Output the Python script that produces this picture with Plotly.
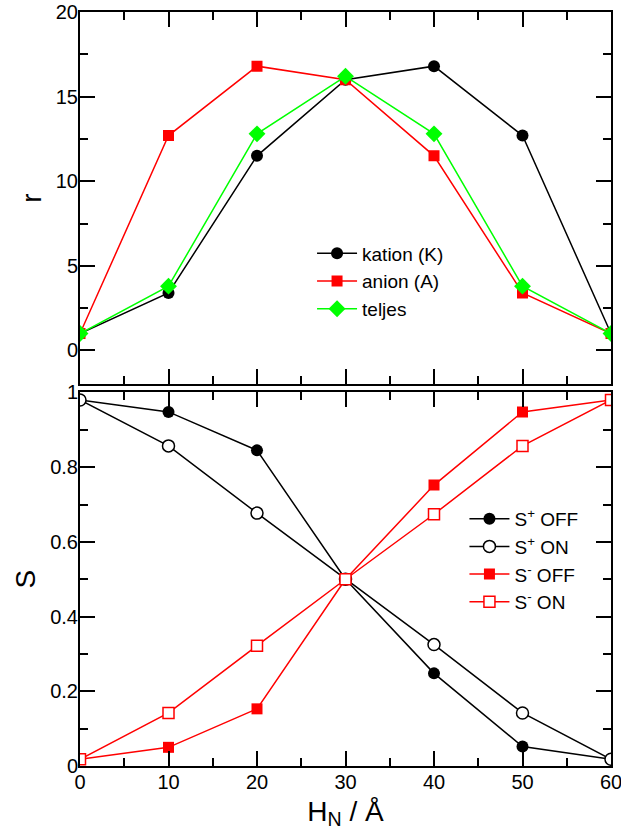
import plotly.graph_objects as go

# ---------------- data ----------------
H = [0, 10, 20, 30, 40, 50, 60]

r_kation = [1.0, 3.4, 11.5, 16.0, 16.8, 12.7, 1.0]
r_anion = [1.0, 12.7, 16.8, 16.0, 11.5, 3.4, 1.0]
r_teljes = [1.0, 3.8, 12.8, 16.2, 12.8, 3.8, 1.0]

s_plus_off = [0.98, 0.948, 0.845, 0.50, 0.248, 0.052, 0.018]
s_plus_on = [0.98, 0.857, 0.677, 0.50, 0.325, 0.142, 0.018]
s_minus_off = [0.018, 0.050, 0.153, 0.50, 0.752, 0.948, 0.98]
s_minus_on = [0.018, 0.142, 0.322, 0.50, 0.674, 0.857, 0.98]

FONT = "Liberation Sans, Arial, Helvetica, sans-serif"
RED = "#ff0000"
GREEN = "#00ff00"

fig = go.Figure()

# ---- top panel (r) ----
fig.add_trace(go.Scatter(x=H, y=r_kation, mode="lines+markers", name="kation (K)",
                         line=dict(color="black", width=1.5),
                         marker=dict(symbol="circle", size=12, color="black"),
                         xaxis="x2", yaxis="y2", legend="legend"))
fig.add_trace(go.Scatter(x=H, y=r_anion, mode="lines+markers", name="anion (A)",
                         line=dict(color=RED, width=1.5),
                         marker=dict(symbol="square", size=11, color=RED),
                         xaxis="x2", yaxis="y2", legend="legend"))
fig.add_trace(go.Scatter(x=H, y=r_teljes, mode="lines+markers", name="teljes",
                         line=dict(color=GREEN, width=1.5),
                         marker=dict(symbol="diamond", size=13, color=GREEN),
                         xaxis="x2", yaxis="y2", legend="legend"))

# ---- bottom panel (S) ----
fig.add_trace(go.Scatter(x=H, y=s_plus_off, mode="lines+markers", name="S<sup>+</sup> OFF",
                         line=dict(color="black", width=1.5),
                         marker=dict(symbol="circle", size=12, color="black"),
                         xaxis="x", yaxis="y", legend="legend2"))
fig.add_trace(go.Scatter(x=H, y=s_plus_on, mode="lines+markers", name="S<sup>+</sup> ON",
                         line=dict(color="black", width=1.5),
                         marker=dict(symbol="circle", size=12, color="white",
                                     line=dict(color="black", width=1.5)),
                         xaxis="x", yaxis="y", legend="legend2"))
fig.add_trace(go.Scatter(x=H, y=s_minus_off, mode="lines+markers", name="S<sup>-</sup> OFF",
                         line=dict(color=RED, width=1.5),
                         marker=dict(symbol="square", size=11, color=RED),
                         xaxis="x", yaxis="y", legend="legend2"))
fig.add_trace(go.Scatter(x=H, y=s_minus_on, mode="lines+markers", name="S<sup>-</sup> ON",
                         line=dict(color=RED, width=1.5),
                         marker=dict(symbol="square", size=11, color="white",
                                     line=dict(color=RED, width=1.5)),
                         xaxis="x", yaxis="y", legend="legend2"))

tick_common = dict(ticks="inside", ticklen=15, tickwidth=1.5, tickcolor="black",
                   showline=True, linewidth=2, linecolor="black", mirror="ticks",
                   showgrid=False, zeroline=False, automargin=False,
                   ticklabeloverflow="allow",
                   tickfont=dict(family=FONT, size=20, color="black"))

minor_common = dict(ticklen=8, ticks="inside", tickwidth=1.5, tickcolor="black", showgrid=False)

fig.update_layout(
    width=621, height=840,
    margin=dict(l=80, r=10, t=12, b=74),
    paper_bgcolor="white", plot_bgcolor="white",
    font=dict(family=FONT, color="black"),
    showlegend=True,
    xaxis=dict(domain=[0, 1], anchor="y", range=[0, 60], dtick=10,
               minor=dict(dtick=5, **minor_common), ticklabelstandoff=-3,
               title=dict(text="H<sub>N</sub> / Å", font=dict(family=FONT, size=28), standoff=9),
               **tick_common),
    yaxis=dict(domain=[0, 0.4954], anchor="x", range=[0, 1], dtick=0.2,
               minor=dict(dtick=0.1, **minor_common), ticklabelstandoff=-4,
               title=dict(text="S", font=dict(family=FONT, size=28), standoff=6),
               **tick_common),
    xaxis2=dict(domain=[0, 1], anchor="y2", range=[0, 60], dtick=10, showticklabels=False,
                minor=dict(dtick=5, **minor_common),
                **tick_common),
    yaxis2=dict(domain=[0.5062, 1], anchor="x2", range=[-2, 20], dtick=5,
                minor=dict(dtick=2.5, **minor_common), ticklabelstandoff=-4,
                title=dict(text="r", font=dict(family=FONT, size=28), standoff=6),
                **tick_common),
    legend=dict(x=0.437, y=0.705, xanchor="left", yanchor="top",
                bgcolor="rgba(0,0,0,0)", borderwidth=0, itemwidth=40,
                font=dict(family=FONT, size=19, color="black")),
    legend2=dict(x=0.724, y=0.353, xanchor="left", yanchor="top",
                 bgcolor="rgba(0,0,0,0)", borderwidth=0, itemwidth=40,
                 font=dict(family=FONT, size=19, color="black")),
)

fig.write_html("out.html")
